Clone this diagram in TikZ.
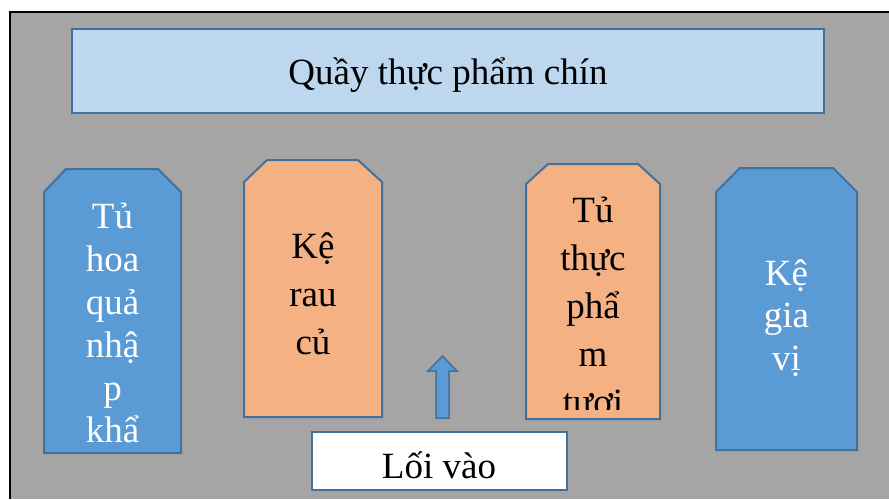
\documentclass[tikz,border=0pt]{standalone}
\usepackage{fontspec}
\setmainfont{Liberation Serif}
\definecolor{bggray}{HTML}{A5A5A5}
\definecolor{edgeblue}{HTML}{41719C}
\definecolor{fillblue}{HTML}{5B9BD5}
\definecolor{filllight}{HTML}{BDD7EE}
\definecolor{fillorange}{HTML}{F4B183}
\tikzset{
  shelf/.style={draw=edgeblue, line width=2pt, line join=miter},
  blueshelf/.style={shelf, fill=fillblue},
  orangeshelf/.style={shelf, fill=fillorange},
  lbl/.style={anchor=base, inner sep=0pt, font=\fontsize{37}{44}\selectfont},
  whitelbl/.style={lbl, text=white},
  blacklbl/.style={lbl, text=black},
  boxnode/.style={draw=edgeblue, line width=2pt, inner sep=0pt}
}
\begin{document}
\begin{tikzpicture}[x=1pt, y={(0pt,-1pt)}]
\useasboundingbox (0,0) rectangle (889,499);
\fill[white] (0,0) rectangle (889,499);
\fill[bggray] (10,12) rectangle (889,499);
\draw[line width=2pt] (10,499) -- (10,12) -- (889,12);

% title box
\path[boxnode, fill=filllight] (72,29) rectangle (824,113);
\node[blacklbl] (title) at (448,84) {Quầy thực phẩm chín};

% shelf 1 (blue)
\path[blueshelf] (44,453) -- (44,192) -- (66,169) -- (158,169) -- (181,192) -- (181,453) -- cycle;
\node[whitelbl] (a1) at (112.5,228) {Tủ};
\node[whitelbl] (a2) at (112.5,271) {hoa};
\node[whitelbl] (a3) at (112.5,314) {quả};
\node[whitelbl] (a4) at (112.5,357) {nhậ};
\node[whitelbl] (a5) at (112.5,400) {p};
\node[whitelbl] (a6) at (112.5,442) {khẩ};

% shelf 2 (orange)
\path[orangeshelf] (244,417) -- (244,182) -- (267,160) -- (358,160) -- (382,182) -- (382,417) -- cycle;
\node[blacklbl] (b1) at (313,258) {Kệ};
\node[blacklbl] (b2) at (313,306) {rau};
\node[blacklbl] (b3) at (313,354) {củ};

% shelf 3 (orange)
\path[orangeshelf] (526,419) -- (526,184) -- (548,164) -- (638,164) -- (660,184) -- (660,419) -- cycle;
\node[blacklbl] (c1) at (593,222) {Tủ};
\node[blacklbl] (c2) at (593,270) {thực};
\node[blacklbl] (c3) at (593,318) {phẩ};
\node[blacklbl] (c4) at (593,366) {m};
\begin{scope}
  \clip (527,380) rectangle (659,409);
  \node[blacklbl] (c5) at (593,414) {tươi};
\end{scope}

% shelf 4 (blue)
\path[blueshelf] (716,450) -- (716,192) -- (740,168) -- (833,168) -- (857,192) -- (857,450) -- cycle;
\node[whitelbl] (d1) at (786.5,285) {Kệ};
\node[whitelbl] (d2) at (786.5,327) {gia};
\node[whitelbl] (d3) at (786.5,370) {vị};

% entrance arrow
\path[draw=edgeblue, line width=1.5pt, fill=fillblue, line join=miter]
  (436,418) -- (436,371) -- (428,371) -- (442.5,356) -- (457,371) -- (449,371) -- (449,418) -- cycle;

% entrance box
\path[boxnode, fill=white] (312,432) rectangle (567,490);
\node[blacklbl] (entry) at (439,478) {Lối vào};
\end{tikzpicture}
\end{document}
